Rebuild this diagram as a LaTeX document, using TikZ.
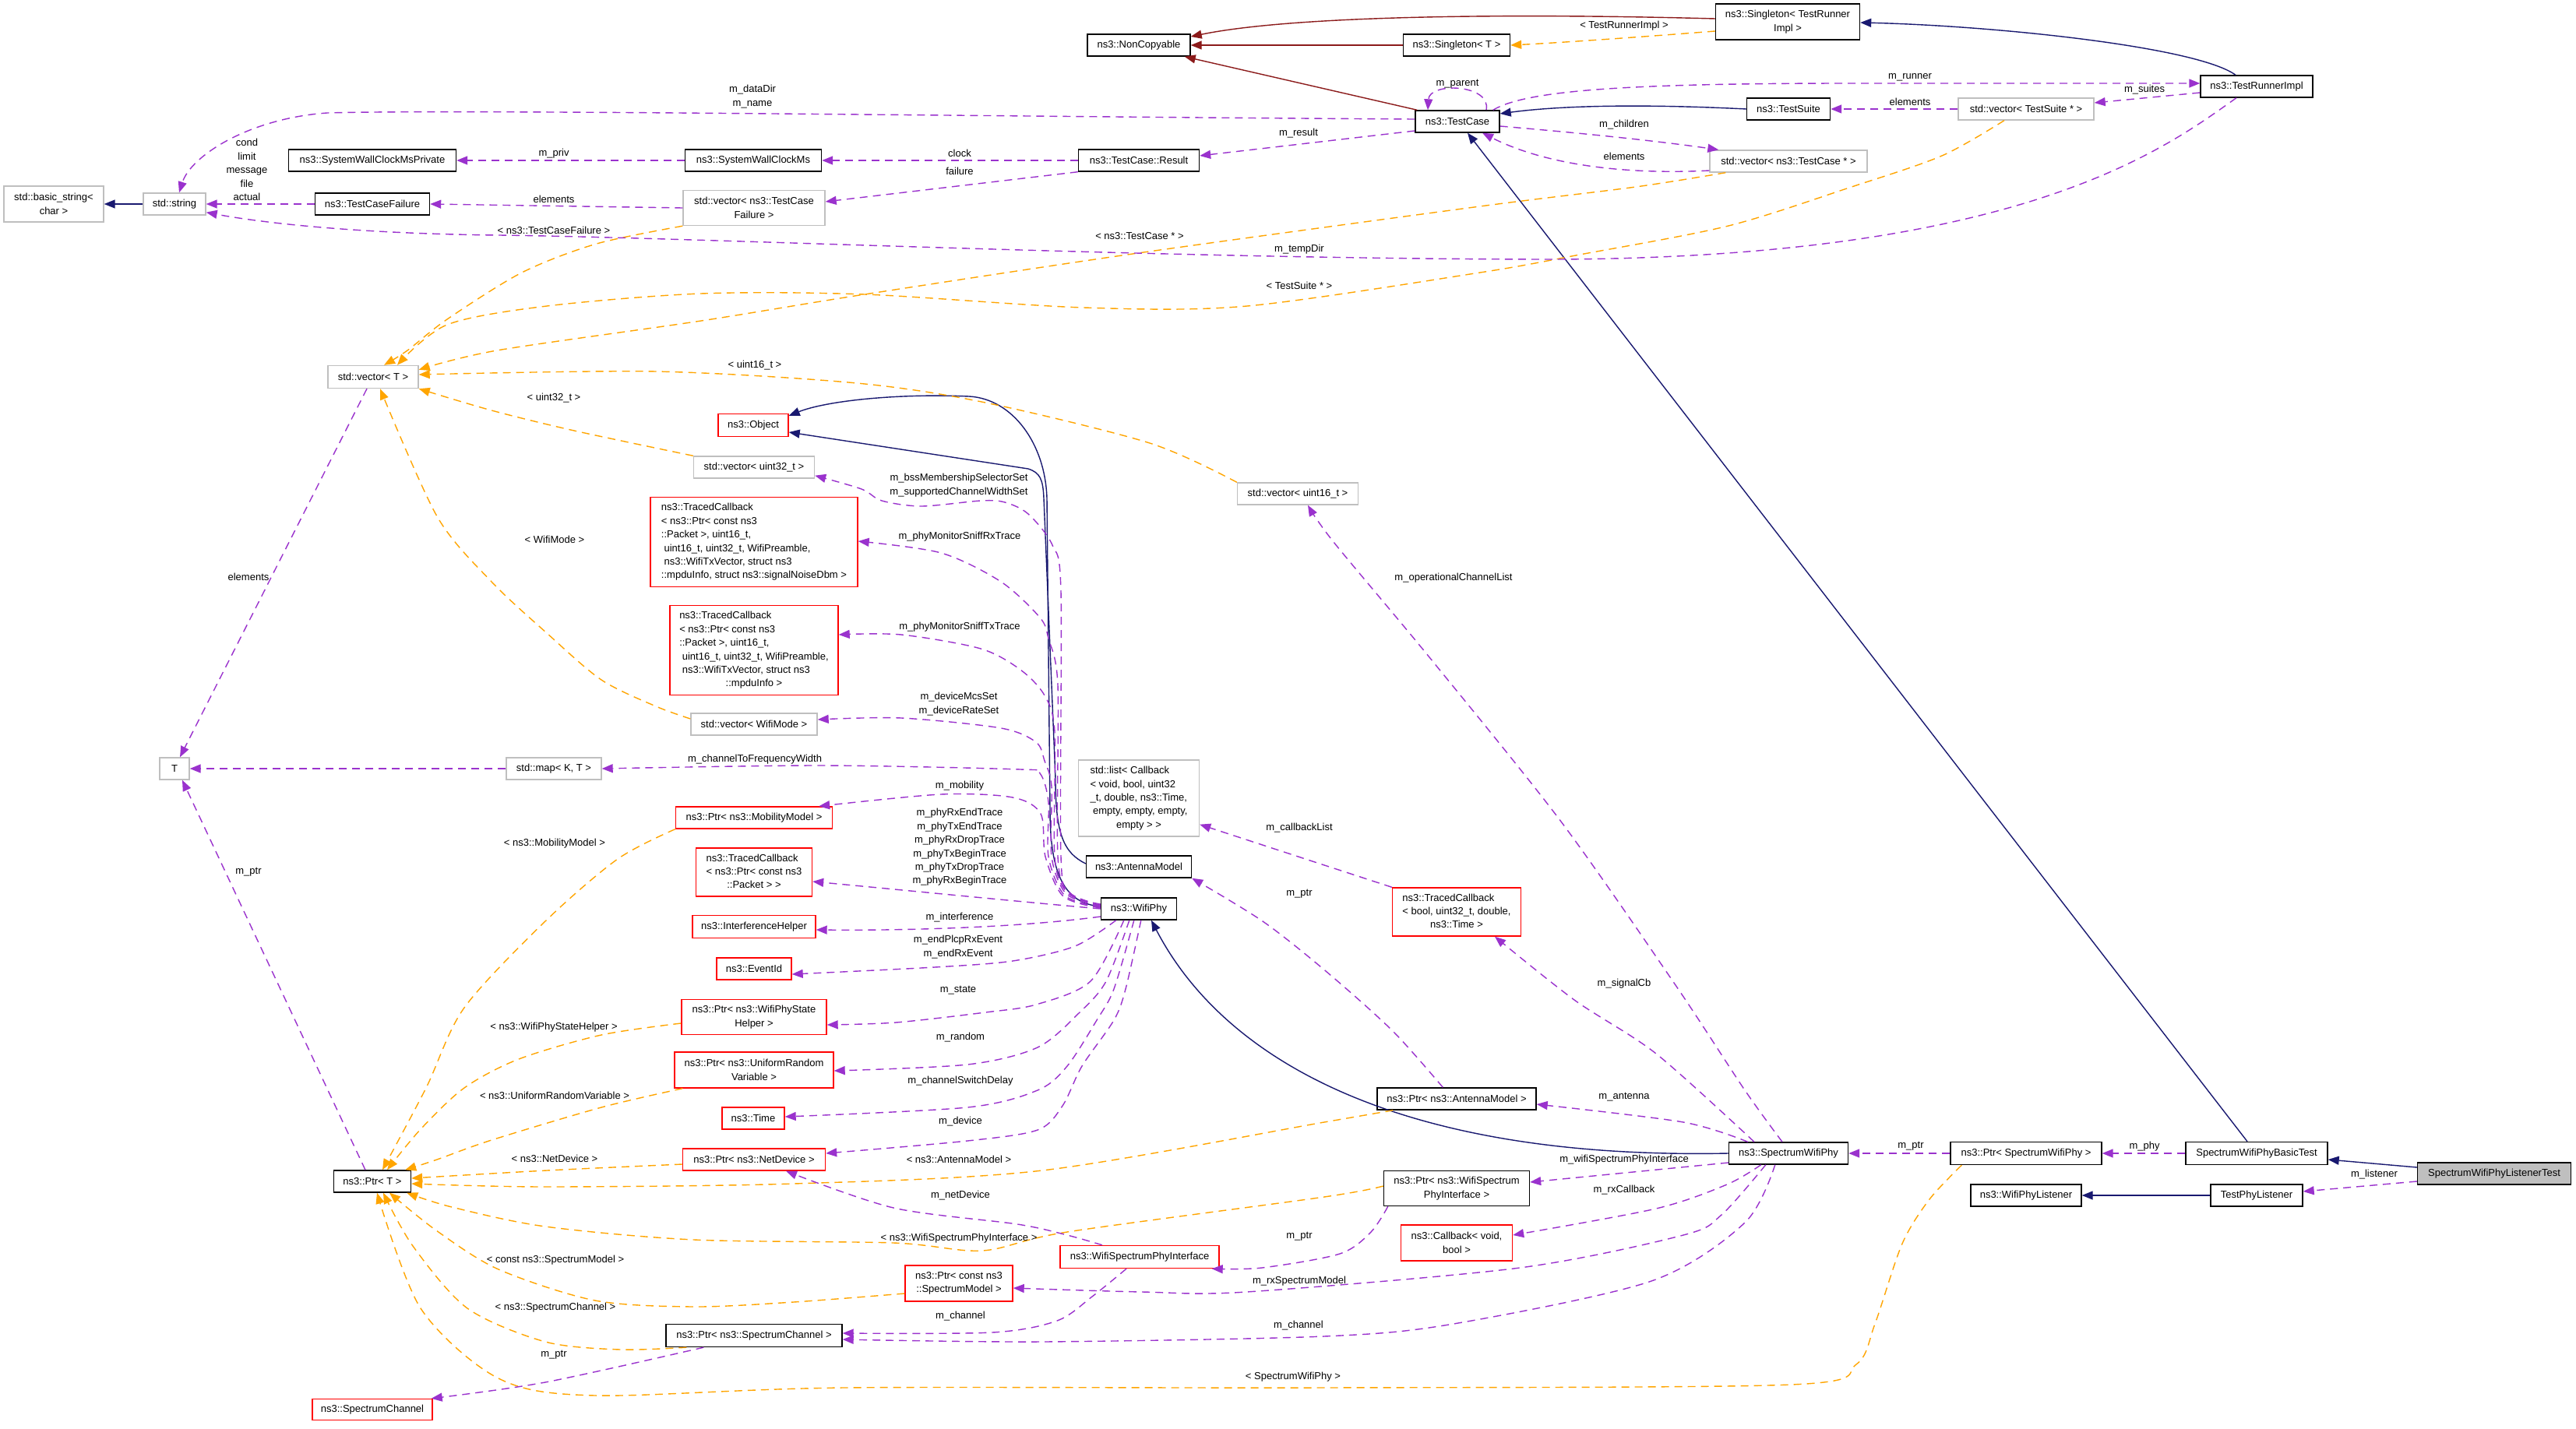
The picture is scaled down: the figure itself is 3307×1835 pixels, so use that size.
\documentclass[tikz,border=0pt]{standalone}
\usepackage{fontspec}
\setmainfont{Liberation Sans}
\usetikzlibrary{arrows.meta,calc}
\newcommand\dfont{\fontsize{13}{17.4}\selectfont}
\newcommand\mlt[2]{\begin{tabular}{@{}l@{}}#1\\\multicolumn{1}{@{}c@{}}{#2}\end{tabular}}
\definecolor{inhc}{HTML}{191970}
\definecolor{privc}{HTML}{8B1A1A}
\definecolor{usec}{HTML}{9A32CD}
\definecolor{tmplc}{HTML}{FFA500}
\definecolor{gborder}{HTML}{BFBFBF}
\definecolor{gfill}{HTML}{BFBFBF}
\tikzset{
  cls/.style={draw=black, line width=1.4pt, fill=white, inner sep=0pt, font=\dfont, minimum height=28pt, align=center},
  gcls/.style={cls, draw=gborder},
  rcls/.style={cls, draw=red},
  lbl/.style={font=\dfont, inner sep=0pt, align=center},
  tipx/.style={-{Triangle[length=14pt,width=11pt]}},
  inh/.style={draw=inhc, line width=1.4pt, tipx},
  priv/.style={draw=privc, line width=1.4pt, tipx},
  use/.style={draw=usec, line width=1.4pt, dash pattern=on 10pt off 7pt, tipx},
  tmpl/.style={draw=tmplc, line width=1.4pt, dash pattern=on 10pt off 7pt, tipx},
}
\begin{document}
\begin{tikzpicture}[x=1pt,y=-1pt]
\fill[white] (0,0) rectangle (3307,1835);
\useasboundingbox (0,0) rectangle (3307,1835);

% ---------- nodes ----------
\node[cls, minimum width=132pt] (noncop) at (1462,58) {ns3::NonCopyable};
\node[cls, minimum width=137pt] (singT) at (1870,58) {ns3::Singleton< T >};
\node[cls, minimum width=185pt, minimum height=46pt] (singTRI) at (2295,28) {ns3::Singleton< TestRunner\\Impl >};
\node[cls, minimum width=108pt] (testcase) at (1871,156) {ns3::TestCase};
\node[cls, minimum width=107pt] (testsuite) at (2296,140) {ns3::TestSuite};
\node[gcls, minimum width=174pt] (vecTS) at (2601,140) {std::vector< TestSuite * >};
\node[cls, minimum width=144pt] (runner) at (2897,111) {ns3::TestRunnerImpl};
\node[gcls, minimum width=202pt] (vecTC) at (2296,207) {std::vector< ns3::TestCase * >};
\node[cls, minimum width=155pt] (result) at (1462,206) {ns3::TestCase::Result};
\node[cls, minimum width=175pt] (swcm) at (967,206) {ns3::SystemWallClockMs};
\node[cls, minimum width=215pt] (swcmp) at (478,206) {ns3::SystemWallClockMsPrivate};
\node[cls, minimum width=147pt] (tcf) at (478,262) {ns3::TestCaseFailure};
\node[gcls, minimum width=182pt, minimum height=45pt] (vecTCF) at (968,267) {std::vector< ns3::TestCase\\Failure >};
\node[gcls, minimum width=80pt] (string) at (224,262) {std::string};
\node[gcls, minimum width=128pt, minimum height=46pt] (bstring) at (69,262) {std::basic\_string<\\char >};
\node[gcls, minimum width=116pt, minimum height=29pt] (vecT) at (479,484) {std::vector< T >};
\node[rcls, minimum width=90pt, minimum height=29pt] (object) at (967,546) {ns3::Object};
\node[gcls, minimum width=155pt] (vec32) at (968,600) {std::vector< uint32\_t >};
\node[rcls, minimum width=266pt, minimum height=115pt] (tc1) at (968,696) {\mlt{ns3::TracedCallback\\< ns3::Ptr< const ns3\\::Packet >, uint16\_t,\\\ uint16\_t, uint32\_t, WifiPreamble,\\\ ns3::WifiTxVector, struct ns3}{::mpduInfo, struct ns3::signalNoiseDbm >}};
\node[rcls, minimum width=216pt, minimum height=115pt] (tc2) at (968,835) {\mlt{ns3::TracedCallback\\< ns3::Ptr< const ns3\\::Packet >, uint16\_t,\\\ uint16\_t, uint32\_t, WifiPreamble,\\\ ns3::WifiTxVector, struct ns3}{::mpduInfo >}};
\node[gcls, minimum width=162pt] (vecWM) at (968,930) {std::vector< WifiMode >};
\node[gcls, minimum width=122pt] (map) at (711,987) {std::map< K, T >};
\node[gcls, minimum width=38pt] (T) at (224,987) {T};
\node[rcls, minimum width=201pt] (ptrMM) at (968,1050) {ns3::Ptr< ns3::MobilityModel >};
\node[rcls, minimum width=149pt, minimum height=62pt] (tcPkt) at (968,1120) {\mlt{ns3::TracedCallback\\< ns3::Ptr< const ns3}{::Packet > >}};
\node[rcls, minimum width=158pt, minimum height=29pt] (interf) at (968,1190) {ns3::InterferenceHelper};
\node[rcls, minimum width=96pt] (eventid) at (968,1244) {ns3::EventId};
\node[rcls, minimum width=186pt, minimum height=45pt] (ptrWPSH) at (968,1306) {ns3::Ptr< ns3::WifiPhyState\\Helper >};
\node[rcls, minimum width=204pt, minimum height=46pt] (ptrURV) at (968,1374) {ns3::Ptr< ns3::UniformRandom\\Variable >};
\node[rcls, minimum width=80pt] (time) at (967,1436) {ns3::Time};
\node[rcls, minimum width=183pt] (ptrND) at (968,1489) {ns3::Ptr< ns3::NetDevice >};
\node[cls, minimum width=99pt] (ptrT) at (478,1517) {ns3::Ptr< T >};
\node[rcls, minimum width=204pt, minimum height=29pt] (wspi) at (1463,1614) {ns3::WifiSpectrumPhyInterface};
\node[rcls, minimum width=138pt, minimum height=46pt] (ptrSM) at (1231,1648) {ns3::Ptr< const ns3\\::SpectrumModel >};
\node[cls, minimum width=226pt, minimum height=29pt] (ptrSC) at (968,1715) {ns3::Ptr< ns3::SpectrumChannel >};
\node[rcls, minimum width=154pt, minimum height=27pt] (sc) at (478,1810) {ns3::SpectrumChannel};
\node[gcls, minimum width=155pt, minimum height=98pt] (list) at (1462,1025) {\mlt{std::list< Callback\\< void, bool, uint32\\\_t, double, ns3::Time,\\\ empty, empty, empty,}{empty > >}};
\node[cls, minimum width=135pt] (antenna) at (1462,1113) {ns3::AntennaModel};
\node[cls, minimum width=97pt] (wifiphy) at (1462,1167) {ns3::WifiPhy};
\node[rcls, minimum width=165pt, minimum height=62pt] (tcBool) at (1870,1171) {\mlt{ns3::TracedCallback\\< bool, uint32\_t, double,}{ns3::Time >}};
\node[cls, minimum width=204pt] (ptrAM) at (1870,1411) {ns3::Ptr< ns3::AntennaModel >};
\node[cls, minimum width=153pt] (swp) at (2296,1481) {ns3::SpectrumWifiPhy};
\node[cls, minimum width=194pt, minimum height=29pt] (ptrSWP) at (2601,1481) {ns3::Ptr< SpectrumWifiPhy >};
\node[cls, minimum width=187pt, minimum height=45pt] (ptrWSPI) at (1870,1526) {ns3::Ptr< ns3::WifiSpectrum\\PhyInterface >};
\node[rcls, minimum width=143pt, minimum height=46pt] (callback) at (1870,1596) {ns3::Callback< void,\\bool >};
\node[cls, minimum width=142pt] (wpl) at (2601,1535) {ns3::WifiPhyListener};
\node[cls, minimum width=182pt, minimum height=29pt] (basic) at (2897,1481) {SpectrumWifiPhyBasicTest};
\node[cls, minimum width=118pt] (tpl) at (2897,1535) {TestPhyListener};
\node[cls, fill=gfill, minimum width=197pt] (lt) at (3202,1507) {SpectrumWifiPhyListenerTest};
\node[gcls, minimum width=155pt] (vec16) at (1666,634) {std::vector< uint16\_t >};

% ---------- private inheritance ----------
\draw[priv] ($(singTRI.west)+(0,-4)$) .. controls (1900,16) and (1650,22) .. ($(noncop.east)+(0,-11)$);
\draw[priv] (singT.west) -- (noncop.east);
\draw[priv] ($(testcase.north west)+(3,0)$) -- ($(noncop.south east)+(-8,0)$);

% ---------- public inheritance ----------
\draw[inh] ($(runner.north)+(-27,0)$) .. controls (2820,60) and (2560,33) .. ($(singTRI.east)+(0,1)$);
\draw[inh] (testsuite.west) .. controls (2100,133) and (2000,136) .. ($(testcase.east)+(0,-10)$);
\draw[inh] ($(basic.north)+(-12,0)$) -- ($(testcase.south)+(13,0)$);
\draw[inh] ($(lt.west)+(0,-8)$) -- ($(basic.east)+(0,8)$);
\draw[inh] (tpl.west) -- (wpl.east);
\draw[inh] (string.west) -- (bstring.east);
\draw[inh] (swp.west) .. controls (1760,1490) and (1560,1340) .. ($(wifiphy.south)+(16,0)$);
\draw[inh] ($(wifiphy.west)+(0,-3)$) .. controls (1365,1160) and (1348,1120) .. (1348,1040) -- (1344,640) .. controls (1342,570) and (1300,512) .. (1244,509) .. controls (1150,505) and (1060,515) .. ($(object.north east)+(0,3)$);
\draw[inh] ($(antenna.west)+(0,-4)$) .. controls (1365,1095) and (1355,1070) .. (1355,1000) -- (1340,640) .. controls (1339,615) and (1335,607) .. (1320,602) -- ($(object.east)+(0,9)$);

% ---------- template instances ----------
\draw[tmpl] ($(singTRI.west)+(0,12)$) .. controls (2100,48) and (2000,55) .. (singT.east);
\draw[tmpl] plot[smooth,tension=.5] coordinates {(vecTCF.south west) (766,313) (670,350) (574,410) (523,450) ($(vecT.north)+(14,0)$)};
\draw[tmpl] plot[smooth,tension=.5] coordinates {($(vecTC.south west)+(21,0)$) (2100,240) (1900,265) (1461,325) (1110,378) (900,412) (638,450) ($(vecT.north east)+(0,6)$)};
\draw[tmpl] plot[smooth,tension=.5] coordinates {($(vecTS.south)+(-28,0)$) (2493,200) (2377,240) (2219,290) (2028,327) (1900,350) (1601,393) (1391,395) (1110,378) (900,377) (702,393) (574,417) ($(vecT.north)+(31,0)$)};
\draw[tmpl] plot[smooth,tension=.5] coordinates {(vec16.north west) (1476,569) (1265,517) (1100,492) (842,477) ($(vecT.east)+(0,-3)$)};
\draw[tmpl] plot[smooth,tension=.5] coordinates {(vec32.north west) (737,553) (631,527) (vecT.south east)};
\draw[tmpl] plot[smooth,tension=.5] coordinates {($(vecWM.west)+(0,-7)$) (842,907) (772,873) (702,813) (631,747) (561,663) ($(vecT.south)+(9,0)$)};
\draw[tmpl] plot[smooth,tension=.5] coordinates {(ptrMM.south west) (793,1103) (701,1182) (596,1294) (547,1397) ($(ptrT.north)+(13,0)$)};
\draw[tmpl] plot[smooth,tension=.5] coordinates {($(ptrWPSH.west)+(0,8)$) (772,1329) (666,1360) (596,1397) (540,1450) ($(ptrT.north)+(19,0)$)};
\draw[tmpl] plot[smooth,tension=.5] coordinates {($(ptrURV.south west)+(11,0)$) (772,1422) (631,1464) (561,1489) ($(ptrT.north east)+(-8,0)$)};
\draw[tmpl] plot[smooth,tension=.5] coordinates {($(ptrND.west)+(0,6)$) (702,1503) ($(ptrT.east)+(0,-4)$)};
\draw[tmpl] plot[smooth,tension=.5] coordinates {($(ptrAM.south west)+(21,0)$) (1700,1441) (1338,1503) (1019,1520) (700,1524) ($(ptrT.east)+(0,3)$)};
\draw[tmpl] plot[smooth,tension=.5] coordinates {($(ptrWSPI.west)+(0,-3)$) (1700,1537) (1370,1582) (1261,1606) (1147,1596) (891,1592) (700,1575) (580,1550) ($(ptrT.south east)+(-6,0)$)};
\draw[tmpl] plot[smooth,tension=.5] coordinates {($(ptrSM.west)+(0,13)$) (1019,1672) (891,1678) (764,1670) (640,1630) (560,1580) ($(ptrT.south)+(22,0)$)};
\draw[tmpl] plot[smooth,tension=.5] coordinates {($(ptrSC.south west)+(27,0)$) (796,1733) (700,1723) (600,1680) (530,1600) ($(ptrT.south)+(14,0)$)};
\draw[tmpl] plot[smooth,tension=.5] coordinates {($(ptrSWP.south west)+(15,0)$) (2477,1540) (2442,1597) (2407,1700) (2383,1752) (2300,1778) (1700,1782) (1083,1782) (764,1792) (640,1770) (540,1680) ($(ptrT.south)+(6,0)$)};

% ---------- usage ----------
\draw[use] ($(testcase.west)+(0,-3)$) .. controls (1300,150) and (600,140) .. (420,145) .. controls (320,152) and (245,200) .. ($(string.north)+(6,0)$);
\draw[use] ($(testcase.north)+(37,0)$) .. controls (1915,108) and (1835,105) .. ($(testcase.north)+(-38,0)$);
\draw[use] ($(testcase.north east)+(-9,0)$) .. controls (1960,115) and (2100,107) .. (2380,107) -- ($(runner.west)+(0,-4)$);
\draw[use] ($(runner.west)+(0,8)$) -- ($(vecTS.east)+(0,-8)$);
\draw[use] (vecTS.west) -- (testsuite.east);
\draw[use] ($(testcase.east)+(0,6)$) .. controls (2020,170) and (2120,180) .. ($(vecTC.north west)+(12,0)$);
\draw[use] ($(vecTC.west)+(0,12)$) .. controls (2100,224) and (1990,215) .. ($(testcase.south)+(32,0)$);
\draw[use] ($(testcase.west)+(0,12)$) -- ($(result.east)+(0,-6)$);
\draw[use] (result.west) -- (swcm.east);
\draw[use] (result.south west) -- ($(vecTCF.east)+(0,-8)$);
\draw[use] (swcm.west) -- (swcmp.east);
\draw[use] (vecTCF.west) -- (tcf.east);
\draw[use] (tcf.west) -- (string.east);
\draw[use] ($(runner.south)+(-26,0)$) .. controls (2780,190) and (2600,330) .. (2000,333) .. controls (1500,333) and (900,305) .. (640,302) .. controls (450,300) and (330,285) .. ($(string.south east)+(0,-4)$);
\draw[use] ($(vecT.south)+(-8,0)$) -- ($(T.north)+(7,0)$);
\draw[use] (map.west) -- (T.east);
\draw[use] ($(ptrT.north)+(-9,0)$) -- ($(T.south)+(10,0)$);

% WifiPhy upward bundle
\draw[use] plot[smooth,tension=.5] coordinates {($(wifiphy.west)+(0,-6)$) (1375,1148) (1362,1100) (1362,760) (1351,700) (1320,660) (1290,645) (1259,643) (1183,650) (1132,643) (1106,628) ($(vec32.south east)+(0,-4)$)};
\draw[use] plot[smooth,tension=.5] coordinates {($(wifiphy.west)+(0,-5)$) (1373,1146) (1358,1100) (1358,880) (1346,820) (1335,793) (1285,747) (1208,710) ($(tc1.east)+(0,-1)$)};
\draw[use] plot[smooth,tension=.5] coordinates {($(wifiphy.west)+(0,-4)$) (1371,1147) (1354,1100) (1354,940) (1341,893) (1310,860) (1259,833) (1157,815) ($(tc2.east)+(0,-20)$)};
\draw[use] plot[smooth,tension=.5] coordinates {($(wifiphy.west)+(0,-3)$) (1369,1148) (1350,1100) (1350,1010) (1341,977) (1330,953) (1285,935) (1157,922) ($(vecWM.east)+(0,-6)$)};
\draw[use] plot[smooth,tension=.5] coordinates {($(wifiphy.west)+(0,-2)$) (1367,1150) (1346,1100) (1346,1030) (1335,993) (1310,988) (1055,983) (map.east)};
\draw[use] plot[smooth,tension=.5] coordinates {($(wifiphy.west)+(0,-1)$) (1365,1151) (1342,1100) (1336,1045) (1300,1024) (1208,1020) ($(ptrMM.north east)+(-18,0)$)};
% WifiPhy downward
\draw[use] (wifiphy.west) .. controls (1300,1157) and (1150,1142) .. ($(tcPkt.east)+(0,12)$);
\draw[use] ($(wifiphy.west)+(0,10)$) .. controls (1300,1192) and (1150,1195) .. ($(interf.east)+(0,4)$);
\draw[use] plot[smooth,tension=.5] coordinates {($(wifiphy.south west)+(20,0)$) (1380,1215) (1300,1234) (1200,1242) ($(eventid.east)+(0,7)$)};
\draw[use] plot[smooth,tension=.5] coordinates {($(wifiphy.south west)+(30,0)$) (1400,1260) (1330,1290) (1265,1300) (1150,1313) ($(ptrWPSH.east)+(0,10)$)};
\draw[use] plot[smooth,tension=.5] coordinates {($(wifiphy.south west)+(37,0)$) (1420,1260) (1386,1300) (1332,1345) (1242,1367) ($(ptrURV.east)+(0,1)$)};
\draw[use] plot[smooth,tension=.5] coordinates {($(wifiphy.south west)+(43,0)$) (1430,1270) (1408,1310) (1370,1369) (1332,1400) (1242,1422) ($(time.east)+(0,-2)$)};
\draw[use] plot[smooth,tension=.5] coordinates {($(wifiphy.south west)+(52,0)$) (1445,1270) (1430,1310) (1389,1369) (1364,1420) (1332,1451) (1242,1465) ($(ptrND.east)+(0,-8)$)};

% others
\draw[use] (tcBool.north west) -- ($(list.south east)+(0,-16)$);
\draw[use] plot[smooth,tension=.5] coordinates {($(ptrAM.north west)+(85,0)$) (1788,1324) (1702,1247) (1621,1183) (antenna.south east)};
\draw[use] plot[smooth,tension=.5] coordinates {($(swp.north)+(-44,0)$) (2126,1353) (2021,1284) ($(tcBool.south)+(49,0)$)};
\draw[use] plot[smooth,tension=.5] coordinates {($(swp.north)+(-8,0)$) (2240,1400) (2151,1265) (2004,1055) (1835,844) (1712,696) ($(vec16.south)+(13,0)$)};
\draw[use] plot[smooth,tension=.5] coordinates {($(swp.north west)+(25,0)$) (2161,1441) ($(ptrAM.east)+(0,7)$)};
\draw[use] ($(swp.west)+(0,12)$) -- ($(ptrWSPI.east)+(0,-8)$);
\draw[use] plot[smooth,tension=.5] coordinates {($(swp.south west)+(42,0)$) (2217,1521) (2126,1552) ($(callback.east)+(0,-10)$)};
\draw[use] plot[smooth,tension=.5] coordinates {($(swp.south west)+(48,0)$) (2210,1560) (2161,1586) (1951,1628) (1600,1659) (1466,1659) ($(ptrSM.east)+(0,6)$)};
\draw[use] plot[smooth,tension=.5] coordinates {($(swp.south west)+(60,0)$) (2240,1570) (2120,1645) (1866,1700) (1700,1716) (1338,1723) ($(ptrSC.east)+(0,5)$)};
\draw[use] (ptrSWP.west) -- (swp.east);
\draw[use] (basic.west) -- (ptrSWP.east);
\draw[use] ($(lt.west)+(0,10)$) -- ($(tpl.east)+(0,-5)$);
\draw[use] plot[smooth,tension=.5] coordinates {($(ptrWSPI.south west)+(6,0)$) (1760,1582) (1720,1610) (1620,1628) ($(wspi.south east)+(-10,0)$)};
\draw[use] plot[smooth,tension=.5] coordinates {($(wspi.north)+(-48,0)$) (1370,1586) (1306,1572) (1147,1551) ($(ptrND.south)+(41,0)$)};
\draw[use] plot[smooth,tension=.5] coordinates {($(wspi.south)+(-17,0)$) (1402,1665) (1357,1696) (1274,1711) ($(ptrSC.east)+(0,-3)$)};
\draw[use] plot[smooth,tension=.5] coordinates {($(ptrSC.south west)+(49,0)$) (700,1775) ($(sc.north east)+(-2,0)$)};

% ---------- labels ----------
\node[lbl] (lTRI) at (2085,33) {< TestRunnerImpl >};
\node[lbl] (lparent) at (1871,108) {m\_parent};
\node[lbl] (lrunner) at (2452,99) {m\_runner};
\node[lbl] (lsuites) at (2753,115) {m\_suites};
\node[lbl] (lelTS) at (2452,131) {elements};
\node[lbl] (lchildren) at (2085,160) {m\_children};
\node[lbl] (lelTC) at (2085,201) {elements};
\node[lbl] (lresult) at (1667,171) {m\_result};
\node[lbl] (ldata) at (966,124) {m\_dataDir\\m\_name};
\node[lbl] (lclock) at (1232,197) {clock};
\node[lbl] (lfailure) at (1232,220) {failure};
\node[lbl] (lpriv) at (711,197) {m\_priv};
\node[lbl] (lelTCF) at (711,256) {elements};
\node[lbl] (lcond) at (317,218) {cond\\limit\\message\\file\\actual};
\node[lbl] (lTCF) at (711,296) {< ns3::TestCaseFailure >};
\node[lbl] (lTCs) at (1463,303) {< ns3::TestCase * >};
\node[lbl] (ltemp) at (1668,320) {m\_tempDir};
\node[lbl] (lTSs) at (1668,367) {< TestSuite * >};
\node[lbl] (lu16) at (969,469) {< uint16\_t >};
\node[lbl] (lu32) at (711,511) {< uint32\_t >};
\node[lbl] (lWM) at (712,693) {< WifiMode >};
\node[lbl] (lelT) at (319,741) {elements};
\node[lbl] (lbss) at (1231,623) {m\_bssMembershipSelectorSet\\m\_supportedChannelWidthSet};
\node[lbl] (lrx) at (1232,689) {m\_phyMonitorSniffRxTrace};
\node[lbl] (ltx) at (1232,805) {m\_phyMonitorSniffTxTrace};
\node[lbl] (lmcs) at (1231,904) {m\_deviceMcsSet\\m\_deviceRateSet};
\node[lbl] (lfreq) at (969,975) {m\_channelToFrequencyWidth};
\node[lbl] (lmob) at (1232,1009) {m\_mobility};
\node[lbl] (ltrace) at (1232,1088) {m\_phyRxEndTrace\\m\_phyTxEndTrace\\m\_phyRxDropTrace\\m\_phyTxBeginTrace\\m\_phyTxDropTrace\\m\_phyRxBeginTrace};
\node[lbl] (linterf) at (1232,1178) {m\_interference};
\node[lbl] (levent) at (1230,1216) {m\_endPlcpRxEvent\\m\_endRxEvent};
\node[lbl] (lstate) at (1230,1272) {m\_state};
\node[lbl] (lrandom) at (1233,1332) {m\_random};
\node[lbl] (lswitch) at (1233,1388) {m\_channelSwitchDelay};
\node[lbl] (ldevice) at (1233,1440) {m\_device};
\node[lbl] (lAM) at (1231,1489) {< ns3::AntennaModel >};
\node[lbl] (lnet) at (1233,1535) {m\_netDevice};
\node[lbl] (lWSPI) at (1231,1590) {< ns3::WifiSpectrumPhyInterface >};
\node[lbl] (lch1) at (1233,1690) {m\_channel};
\node[lbl] (lptrSC) at (711,1740) {m\_ptr};
\node[lbl] (lSWP) at (1660,1768) {< SpectrumWifiPhy >};
\node[lbl] (lptrWSPI) at (1668,1588) {m\_ptr};
\node[lbl] (lrxSM) at (1668,1645) {m\_rxSpectrumModel};
\node[lbl] (lch2) at (1667,1702) {m\_channel};
\node[lbl] (lptrAM) at (1668,1148) {m\_ptr};
\node[lbl] (lcb) at (1668,1063) {m\_callbackList};
\node[lbl] (lsig) at (2085,1263) {m\_signalCb};
\node[lbl] (lop) at (1866,742) {m\_operationalChannelList};
\node[lbl] (lant) at (2085,1409) {m\_antenna};
\node[lbl] (lwspi) at (2085,1489) {m\_wifiSpectrumPhyInterface};
\node[lbl] (lrxcb) at (2085,1528) {m\_rxCallback};
\node[lbl] (lptrSWP) at (2453,1472) {m\_ptr};
\node[lbl] (lphy) at (2753,1472) {m\_phy};
\node[lbl] (llis) at (3048,1508) {m\_listener};
\node[lbl] (lMM) at (712,1083) {< ns3::MobilityModel >};
\node[lbl] (lWPSH) at (711,1319) {< ns3::WifiPhyStateHelper >};
\node[lbl] (lURV) at (712,1407) {< ns3::UniformRandomVariable >};
\node[lbl] (lND) at (712,1488) {< ns3::NetDevice >};
\node[lbl] (lSM) at (713,1618) {< const ns3::SpectrumModel >};
\node[lbl] (lSC) at (713,1679) {< ns3::SpectrumChannel >};
\node[lbl] (lptrT) at (319,1120) {m\_ptr};
\end{tikzpicture}
\end{document}
